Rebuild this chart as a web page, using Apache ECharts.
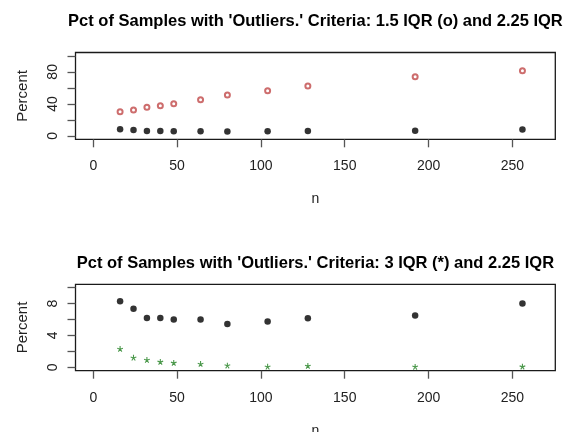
<!DOCTYPE html>
<html>
<head>
<meta charset="utf-8">
<script src="https://cdn.jsdelivr.net/npm/echarts@6/dist/echarts.min.js"></script>
<style>
html,body{margin:0;padding:0;background:#fff;}
#chart{width:566px;height:432px;}
</style>
</head>
<body>
<div id="chart"></div>
<script>
// ---- data ----
var sampleSizes = [16, 24, 32, 40, 48, 64, 80, 104, 128, 192, 256];
var pctIQR150 = [30.3, 32.4, 35.7, 37.7, 40.2, 45.2, 51.1, 56.4, 62.3, 73.8, 81.3];
var pctIQR225 = [8.3, 7.35, 6.2, 6.2, 6.0, 6.0, 5.45, 5.75, 6.15, 6.5, 8.0];
var pctIQR300 = [2.3, 1.2, 0.92, 0.68, 0.55, 0.42, 0.22, 0.07, 0.17, 0.06, 0.08];
var xTicks = [0, 50, 100, 150, 200, 250];
var yTicksTop = [0, 20, 40, 60, 80, 100];
var yLabelsTop = [0, 40, 80];
var yTicksBottom = [0, 2, 4, 6, 8, 10];
var yLabelsBottom = [0, 4, 8];
var titleTop = "Pct of Samples with 'Outliers.' Criteria: 1.5 IQR (o) and 2.25 IQR";
var titleBottom = "Pct of Samples with 'Outliers.' Criteria: 3 IQR (*) and 2.25 IQR";

function pairs(xs, ys) { return xs.map(function (x, i) { return [x, ys[i]]; }); }

// asterisk symbol path (5 arms)
function asteriskPath() {
  var parts = [];
  var w = 1.8, r = 10;
  for (var k = 0; k < 5; k++) {
    var a = (-90 + k * 72) * Math.PI / 180;
    var dx = Math.cos(a), dy = Math.sin(a);
    var px = -dy * w, py = dx * w;
    var p = [
      [10 + px, 10 + py], [10 + dx * r + px, 10 + dy * r + py],
      [10 + dx * r - px, 10 + dy * r - py], [10 - px, 10 - py]
    ];
    parts.push('M' + p.map(function (q) { return q[0].toFixed(2) + ',' + q[1].toFixed(2); }).join('L') + 'Z');
  }
  return 'path://' + parts.join('');
}

var FONT = "'Liberation Sans', Arial, sans-serif";
var gridL = 75.5, gridR = 10.7;
var plotCenterX = gridL + (566 - gridL - gridR) / 2;

function xAxisDef(idx) {
  return {
    type: 'value', gridIndex: idx, min: -10.6, max: 275.6,
    name: 'n', nameLocation: 'middle', nameGap: 53,
    nameTextStyle: { fontFamily: FONT, fontSize: 14, color: '#222' },
    axisLine: { show: false, onZero: false },
    axisTick: { show: true, length: 8, customValues: xTicks, lineStyle: { color: '#555', width: 1.3 } },
    axisLabel: { customValues: xTicks, margin: 20, fontFamily: FONT, fontSize: 14, color: '#222' },
    splitLine: { show: false }
  };
}
function yAxisDef(idx, mn, mx, ticks, labels) {
  return {
    type: 'value', gridIndex: idx, min: mn, max: mx,
    name: 'Percent', nameLocation: 'middle', nameGap: 45, nameRotate: 90,
    nameTextStyle: { fontFamily: FONT, fontSize: 15, color: '#222' },
    axisLine: { show: false, onZero: false },
    axisTick: { show: true, length: 8, customValues: ticks, lineStyle: { color: '#555', width: 1.3 } },
    axisLabel: { customValues: labels, rotate: 90, margin: 15, fontFamily: FONT, fontSize: 14, color: '#222' },
    splitLine: { show: false }
  };
}

var chart = echarts.init(document.getElementById('chart'), null, { renderer: 'canvas' });
chart.setOption({
  backgroundColor: '#ffffff',
  animation: false,
  graphic: [
    { type: 'text', x: plotCenterX, y: 21, style: { text: titleTop, textAlign: 'center', textVerticalAlign: 'middle', font: "bold 16.5px 'Liberation Sans', Arial, sans-serif", fill: '#000' } },
    { type: 'text', x: plotCenterX, y: 263, style: { text: titleBottom, textAlign: 'center', textVerticalAlign: 'middle', font: "bold 16.5px 'Liberation Sans', Arial, sans-serif", fill: '#000' } }
  ],
  grid: [
    { left: gridL, right: gridR, top: 52.5, height: 86.8, show: true, borderColor: '#1a1a1a', borderWidth: 1.3, backgroundColor: 'transparent', containLabel: false, outerBoundsMode: 'none' },
    { left: gridL, right: gridR, top: 284.3, height: 86.4, show: true, borderColor: '#1a1a1a', borderWidth: 1.3, backgroundColor: 'transparent', containLabel: false, outerBoundsMode: 'none' }
  ],
  xAxis: [xAxisDef(0), xAxisDef(1)],
  yAxis: [
    yAxisDef(0, -4.16, 104.16, yTicksTop, yLabelsTop),
    yAxisDef(1, -0.416, 10.416, yTicksBottom, yLabelsBottom)
  ],
  series: [
    { type: 'scatter', xAxisIndex: 0, yAxisIndex: 0, data: pairs(sampleSizes, pctIQR150),
      symbol: 'emptyCircle', symbolSize: 5, itemStyle: { color: '#c04848', borderColor: '#c04848', borderWidth: 1 } },
    { type: 'scatter', xAxisIndex: 0, yAxisIndex: 0, data: pairs(sampleSizes, pctIQR225),
      symbol: 'circle', symbolSize: 6.5, itemStyle: { color: '#000' } },
    { type: 'scatter', xAxisIndex: 1, yAxisIndex: 1, data: pairs(sampleSizes, pctIQR225),
      symbol: 'circle', symbolSize: 6.5, itemStyle: { color: '#000' } },
    { type: 'scatter', xAxisIndex: 1, yAxisIndex: 1, data: pairs(sampleSizes, pctIQR300),
      symbol: asteriskPath(), symbolSize: 6, itemStyle: { color: '#1f7f1f' } }
  ]
});
</script>
</body>
</html>
